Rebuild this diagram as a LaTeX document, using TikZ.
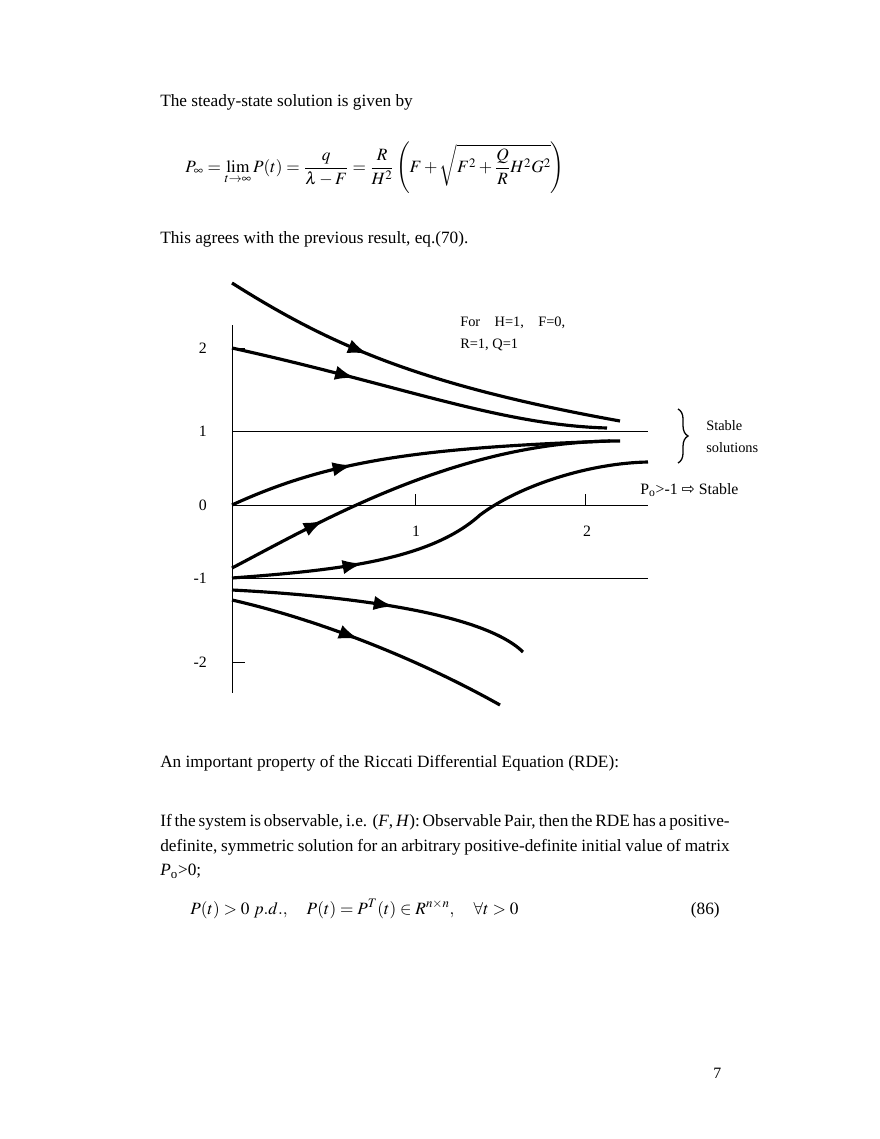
\documentclass[tikz,border=0pt]{standalone}
\usepackage{amsmath}
\usepackage{mathptmx}
\usepackage[no-math]{fontspec}
\setmainfont{Liberation Serif}
\newfontfamily\dvs{DejaVu Sans}
\usetikzlibrary{arrows.meta,decorations.markings,decorations.pathreplacing}
\tikzset{
 crv/.style={line width=2.2pt},
 am/.style={postaction={decorate},decoration={markings,mark=at position #1 with {\arrow{Latex[length=14pt,width=10pt]}}}},
 txt/.style={anchor=base west,inner sep=0pt,font=\fontsize{12}{14}\selectfont},
 sm/.style={anchor=base west,inner sep=0pt,font=\fontsize{10}{12}\selectfont},
 ax/.style={line width=0.6pt}
}
\begin{document}
\begin{tikzpicture}[x=0.69545pt,y=-0.69545pt]
\useasboundingbox (0,0) rectangle (880,1139);
\node[txt] (t1) at (160,106) {The steady-state solution is given by};
\node[anchor=center,inner sep=0pt,font=\fontsize{12}{14}\selectfont] (eq) at (375,168)
 {$P_\infty=\lim\limits_{t\to\infty}P(t)=\dfrac{q}{\lambda-F}=\dfrac{R}{H^2}\left(F+\sqrt{F^2+\dfrac{Q}{R}H^2G^2}\right)$};
\node[txt] (t2) at (160,243) {This agrees with the previous result, eq.(70).};
% axes
\draw[ax] (232,325) -- (232,693);
\foreach \y/\l in {348/2,431/1,505/0,578/-1,662/-2}{
 \draw[ax] (232,\y) -- (245,\y);
 \node[sm,anchor=base east,font=\fontsize{11}{12}\selectfont] (yl\l) at (207,\y+5) {\l};}
\foreach \y in {431,505,578} \draw[ax] (232,\y) -- (648,\y);
\draw[ax] (415,505) -- (415,494); \draw[ax] (585,505) -- (585,494);
\node[sm,anchor=base,font=\fontsize{11}{12}\selectfont] (x1) at (416,536) {1};
\node[sm,anchor=base,font=\fontsize{11}{12}\selectfont] (x2) at (587,536) {2};
% curves
\draw[crv,am=0.37] (232,283) .. controls (330,345) and (420,385) .. (620,421);
\draw[crv,am=0.33] (232,348) .. controls (400,385) and (500,425) .. (607,428);
\draw[crv,am=0.33] (232,505) .. controls (330,460) and (420,448) .. (610,441);
\draw[crv,am=0.25] (232,568) .. controls (320,522) and (460,440) .. (620,441);
\draw[crv,am=0.3] (232,578) .. controls (340,570) and (430,560) .. (480,515)
 .. controls (520,485) and (590,463) .. (648,462);
\draw[crv,am=0.54] (232,590) .. controls (330,595) and (480,610) .. (523,652);
\draw[crv,am=0.46] (232,600) .. controls (320,620) and (420,660) .. (500,705);
% labels
\node[sm] (f1) at (460,326) {For\quad H=1,\quad F=0,};
\node[sm] (f2) at (460,348) {R=1, Q=1};
\draw[line width=0.9pt,decorate,decoration={brace,amplitude=7pt}] (678,409) -- (678,463);
\node[sm] (s1) at (706,430) {Stable};
\node[sm] (s2) at (706,452) {solutions};
\node[sm,font=\fontsize{11}{12}\selectfont] (po) at (640,494) {P\textsubscript{o}>-1 {\dvs ⇨} Stable};
% text below
\node[txt] (t3) at (160,767) {An important property of the Riccati Differential Equation (RDE):};
\node[txt,anchor=north west,text width=396pt,align=justify,font=\fontsize{12}{17.2}\selectfont] (t4) at (160,814)
 {If the system is observable, i.e. (\textit{F}, \textit{H}): Observable Pair, then the RDE has a positive-definite, symmetric solution for an arbitrary positive-definite initial value of matrix \textit{P}\textsubscript{o}>0;};
\node[txt] (e86) at (190,914) {$P(t)>0\ p.d.,\quad P(t)=P^T(t)\in R^{n\times n},\quad \forall t>0$};
\node[txt,anchor=base east] (n86) at (720,914) {(86)};
\node[txt,font=\fontsize{11}{12}\selectfont] (pg) at (713,1078) {7};
\end{tikzpicture}
\end{document}
